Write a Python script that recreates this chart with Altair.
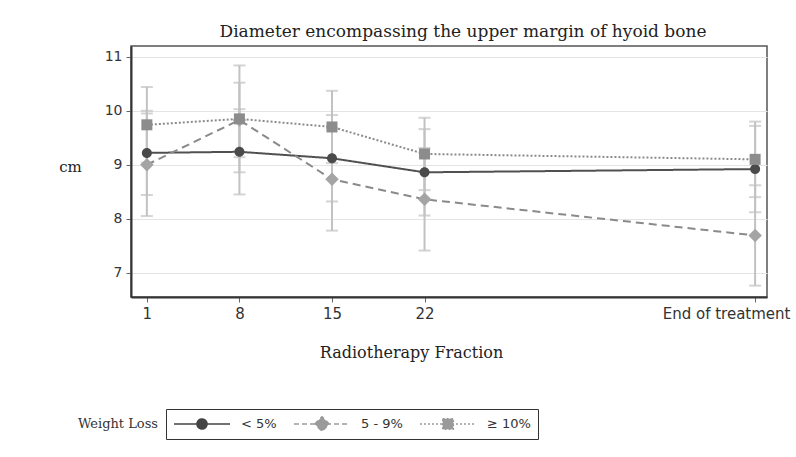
import altair as alt
import pandas as pd

# ---- data ----
positions = [1, 8, 15, 22, 47]          # horizontal position of each measurement occasion
x_labels = ["1", "8", "15", "22", "End of treatment"]
groups = ["< 5%", "5 - 9%", "≥ 10%"]

mean_lt5 = [9.22, 9.24, 9.12, 8.86, 8.92]
low_lt5 = [8.44, 8.45, 8.32, 8.06, 8.12]
high_lt5 = [10.00, 10.03, 9.92, 9.66, 9.72]

mean_5_9 = [9.00, 9.83, 8.73, 8.36, 7.69]
low_5_9 = [8.05, 9.14, 7.78, 7.41, 6.76]
high_5_9 = [9.95, 10.52, 9.68, 9.31, 8.62]

mean_ge10 = [9.74, 9.85, 9.70, 9.20, 9.10]
low_ge10 = [9.04, 8.86, 9.03, 8.53, 8.40]
high_ge10 = [10.44, 10.84, 10.37, 9.87, 9.80]

y_ticks = [7, 8, 9, 10, 11]

# ---- build table ----
rows = []
for g, m, lo, hi in [
    (groups[0], mean_lt5, low_lt5, high_lt5),
    (groups[1], mean_5_9, low_5_9, high_5_9),
    (groups[2], mean_ge10, low_ge10, high_ge10),
]:
    for p, mv, l, h in zip(positions, m, lo, hi):
        rows.append({"group": g, "pos": p, "mean": mv, "low": l, "high": h})
df = pd.DataFrame(rows)

# label expression mapping positions to tick labels
expr = "''"
for p, lab in reversed(list(zip(positions, x_labels))):
    expr = f"datum.value == {p} ? '{lab}' : ({expr})"

SERIF = "DejaVu Serif"
SANS = "DejaVu Sans"

x_enc = alt.X(
    "pos:Q",
    scale=alt.Scale(domain=[-0.2, 47.9], nice=False, zero=False),
    axis=alt.Axis(values=positions, labelExpr=expr, title="Radiotherapy Fraction",
                  grid=False, titleX=280, titleY=55, titleAnchor="middle",
                  titleAlign="center", titleBaseline="middle", titleFontSize=16,
                  labelFontSize=15,
                  labelOffset=alt.ConditionalAxisNumber(
                      condition={"test": f"datum.value == {positions[-1]}", "value": -29},
                      value=0)),
)
y_scale = alt.Scale(domain=[6.55, 11.2], nice=False, zero=False)
y_axis = alt.Axis(values=y_ticks, title="cm", titleAngle=0, titleX=-61, titleY=120,
                  titleAlign="center", titleBaseline="middle", grid=True, titleFontSize=15)

base = alt.Chart(df)

errbars = base.mark_errorbar(ticks=True, size=12, thickness=2, color="#c2c2c2",
                             orient="vertical").encode(
    x=x_enc,
    y=alt.Y("low:Q", scale=y_scale, axis=y_axis),
    y2="high:Q",
)

lines = base.mark_line(strokeWidth=2).encode(
    x=x_enc,
    y=alt.Y("mean:Q", scale=y_scale, axis=y_axis),
    color=alt.Color("group:N", scale=alt.Scale(domain=groups, range=["#505050", "#8a8a8a", "#8a8a8a"]), legend=None),
    strokeDash=alt.StrokeDash("group:N", scale=alt.Scale(domain=groups, range=[[1, 0], [8, 5], [2, 2]]), legend=None),
    order="pos:Q",
)

# marker shapes (unit box scaled by mark size)
marker_paths = [
    "M-1,0A1,1 0 1,1 1,0A1,1 0 1,1 -1,0Z",
    "M-1.35,0L0,-1.35L1.35,0L0,1.35Z",
    "M-1.1,-1.1H1.1V1.1H-1.1Z",
]
points = base.mark_point(filled=True, opacity=1, size=100).encode(
    x=x_enc,
    y=alt.Y("mean:Q", scale=y_scale, axis=y_axis),
    color=alt.Color("group:N", scale=alt.Scale(domain=groups, range=["#4a4a4a", "#a4a4a4", "#8c8c8c"]), legend=None),
    shape=alt.Shape("group:N", scale=alt.Scale(domain=groups, range=marker_paths), legend=None),
)

# legend: line + marker symbols
sym_paths = [
    "M-1,0H1M-0.18,0A0.18,0.18 0 1,1 0.18,0A0.18,0.18 0 1,1 -0.18,0Z",
    "M-1,0H1M-0.26,0L0,-0.26L0.26,0L0,0.26Z",
    "M-1,0H1M-0.19,-0.19H0.19V0.19H-0.19Z",
]
leg = alt.Legend(title=None, orient="none", legendX=35, legendY=363, direction="horizontal",
                 columns=3, symbolSize=3136, symbolStrokeWidth=1.5, clipHeight=16,
                 labelFont=SANS, labelFontSize=13, labelColor="#333", labelOffset=10,
                 columnPadding=16, padding=7, strokeColor="#333", fillColor="white")
legend_layer = alt.Chart(df).transform_filter("false").mark_point(filled=True, opacity=1).encode(
    fill=alt.Fill("group:N", scale=alt.Scale(domain=groups, range=["#444444", "#9a9a9a", "#9a9a9a"]), legend=leg),
    stroke=alt.Stroke("group:N", scale=alt.Scale(domain=groups, range=["#444444", "#9a9a9a", "#9a9a9a"]), legend=leg),
    shape=alt.Shape("group:N", scale=alt.Scale(domain=groups, range=sym_paths), legend=leg),
    strokeDash=alt.StrokeDash("group:N", scale=alt.Scale(domain=groups, range=[[1, 0], [5, 3], [2, 2]]), legend=leg),
)

legend_title = alt.Chart(pd.DataFrame({"t": ["Weight Loss"]})).mark_text(
    align="left", baseline="middle", font=SERIF, fontSize=13, color="#333"
).encode(text="t:N", x=alt.value(-53), y=alt.value(378))

chart = alt.layer(errbars, lines, points, legend_layer, legend_title).resolve_scale(
    color="independent", shape="independent", strokeDash="independent",
    fill="independent", stroke="independent",
).properties(
    width=636, height=251,
    autosize=alt.AutoSizeParams(type="none"),
    padding={"left": 131, "top": 46, "right": 29, "bottom": 160},
    title=alt.TitleParams("Diameter encompassing the upper margin of hyoid bone", font=SERIF,
                          fontSize=17, fontWeight="normal", color="#222", anchor="middle",
                          dx=14, offset=5),
).configure_view(
    stroke="#555", strokeWidth=1.5
).configure_axis(
    domain=True, domainColor="#333", domainWidth=2, tickColor="#666", tickSize=5,
    labelFont=SANS, labelFontSize=14, labelColor="#333", labelPadding=4,
    titleFont=SERIF, titleFontSize=14, titleFontWeight="normal", titleColor="#222",
    gridColor="#e4e4e4", gridWidth=1,
)

chart.save("out.html", embed_options={"renderer": "svg", "actions": False})
